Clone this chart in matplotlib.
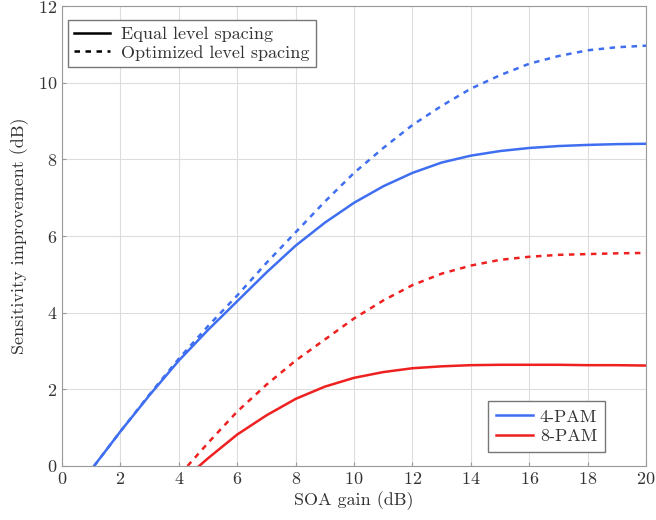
import matplotlib
matplotlib.use("Agg")
import matplotlib.pyplot as plt
from matplotlib.lines import Line2D

plt.rcParams['font.family'] = 'serif'
plt.rcParams['font.serif'] = ['cmr10', 'DejaVu Serif']
plt.rcParams['axes.formatter.use_mathtext'] = True

# SOA gain (dB) and sensitivity improvement (dB)
x_4eq = [1.1, 2, 3, 4, 5, 6, 7, 8, 9, 10, 11, 12, 13, 14, 15, 16, 17, 18, 19, 20]
y_4eq = [0.0, 0.9, 1.85, 2.75, 3.55, 4.3, 5.05, 5.75, 6.35, 6.87, 7.3, 7.65, 7.92, 8.1, 8.22, 8.3, 8.35, 8.38, 8.4, 8.41]

x_4opt = [1.1, 2, 3, 4, 5, 6, 7, 8, 9, 10, 11, 12, 13, 14, 15, 16, 17, 18, 19, 20]
y_4opt = [0.0, 0.9, 1.87, 2.8, 3.65, 4.45, 5.3, 6.1, 6.9, 7.65, 8.3, 8.9, 9.4, 9.85, 10.2, 10.5, 10.7, 10.85, 10.93, 10.97]

x_8eq = [4.7, 5, 6, 7, 8, 9, 10, 11, 12, 13, 14, 15, 16, 17, 18, 19, 20]
y_8eq = [0.0, 0.2, 0.82, 1.32, 1.75, 2.07, 2.3, 2.45, 2.55, 2.6, 2.63, 2.64, 2.64, 2.64, 2.63, 2.63, 2.62]

x_8opt = [4.3, 5, 6, 7, 8, 9, 10, 11, 12, 13, 14, 15, 16, 17, 18, 19, 20]
y_8opt = [0.0, 0.6, 1.42, 2.12, 2.75, 3.3, 3.85, 4.32, 4.72, 5.02, 5.23, 5.38, 5.46, 5.51, 5.53, 5.55, 5.56]

blue = '#3f6ff0'
red = '#ee2020'

fig = plt.figure(figsize=(6.56, 5.2), dpi=100)
ax = fig.add_axes([0.0945, 0.104, 0.8905, 0.884])

ax.plot(x_4eq, y_4eq, color=blue, lw=1.8)
ax.plot(x_4opt, y_4opt, color=blue, lw=1.8, ls=(0, (2.2, 2.2)))
ax.plot(x_8eq, y_8eq, color=red, lw=1.8)
ax.plot(x_8opt, y_8opt, color=red, lw=1.8, ls=(0, (2.2, 2.2)))

ax.set_xlim(0, 20)
ax.set_ylim(0, 12)
ax.set_xticks(range(0, 21, 2))
ax.set_yticks(range(0, 13, 2))
ax.grid(True, color='#dddddd', lw=0.8)
ax.set_axisbelow(True)
for s in ax.spines.values():
    s.set_color('#999999')
ax.tick_params(direction='in', length=3, color='#999999', labelsize=13, labelcolor='#333333')
ax.set_xlabel('SOA gain (dB)', fontsize=13, color='#333333', labelpad=3)
ax.set_ylabel('Sensitivity improvement (dB)', fontsize=13, color='#333333', labelpad=6)

style_handles = [Line2D([], [], color='black', lw=1.8),
                 Line2D([], [], color='black', lw=1.8, ls=(0, (2.2, 2.2)))]
leg1 = ax.legend(style_handles, ['Equal level spacing', 'Optimized level spacing'],
                 loc='upper left', bbox_to_anchor=(0.01, 0.97), borderaxespad=0,
                 fontsize=13, fancybox=False, edgecolor='#777777', framealpha=1,
                 handlelength=2.0, borderpad=0.35, labelspacing=0.15, handletextpad=0.6)
for t in leg1.get_texts():
    t.set_color('#333333')
ax.add_artist(leg1)

color_handles = [Line2D([], [], color=blue, lw=1.8),
                 Line2D([], [], color=red, lw=1.8)]
leg2 = ax.legend(color_handles, ['4-PAM', '8-PAM'],
                 loc='lower right', bbox_to_anchor=(0.93, 0.03), borderaxespad=0,
                 fontsize=13, fancybox=False, edgecolor='#777777', framealpha=1,
                 handlelength=2.0, borderpad=0.45, labelspacing=0.2, handletextpad=0.4)
for t in leg2.get_texts():
    t.set_color('#333333')

fig.savefig('out.png', dpi=100)
